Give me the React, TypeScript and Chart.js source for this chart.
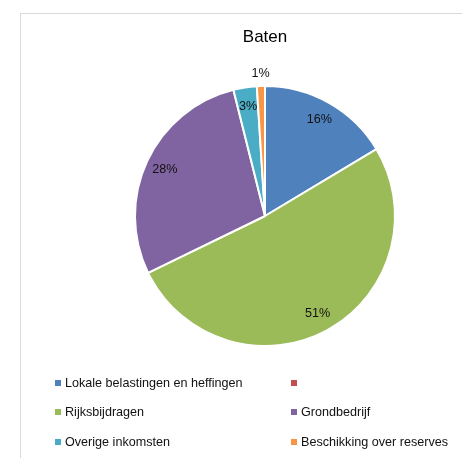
import React, { useEffect, useRef } from "react";
import { Chart, registerables } from "chart.js";

Chart.register(...registerables);

const TITLE = "Baten";
const CATEGORIES = [
  "Lokale belastingen en heffingen",
  "",
  "Rijksbijdragen",
  "Grondbedrijf",
  "Overige inkomsten",
  "Beschikking over reserves",
];
const VALUES = [16.4, 0, 51.4, 28.3, 2.9, 1.0];
const COLORS = ["#4F81BD", "#C0504D", "#9BBB59", "#8064A2", "#4BACC6", "#F79646"];

const FONT = "'Liberation Sans', Arial, sans-serif";

const labelPlugin = {
  id: "pieLabels",
  afterDatasetsDraw(chart: any) {
    const ctx = chart.ctx;
    const meta = chart.getDatasetMeta(0);
    const data = chart.data.datasets[0].data as number[];
    const total = data.reduce((a, b) => a + b, 0);
    ctx.save();
    ctx.font = `12.6px ${FONT}`;
    ctx.fillStyle = "#111";
    ctx.textAlign = "center";
    ctx.textBaseline = "middle";
    meta.data.forEach((el: any, i: number) => {
      const v = data[i];
      if (!v) return;
      const p = el.getProps(["x", "y", "startAngle", "endAngle", "outerRadius"], true);
      const mid = (p.startAngle + p.endAngle) / 2;
      const share = v / total;
      const r = share < 0.02 ? p.outerRadius + 13 : p.outerRadius * 0.85;
      const x = p.x + Math.cos(mid) * r;
      const y = p.y + Math.sin(mid) * r;
      ctx.fillText(`${Math.round(share * 100)}%`, x, y);
    });
    ctx.restore();
  },
};

const LEGEND_ROWS = [383, 412, 441.5];
const LEGEND_COLS = [55, 291];

export default function App() {
  const ref = useRef<HTMLCanvasElement | null>(null);

  useEffect(() => {
    document.body.style.margin = "0";
    if (!ref.current) return;
    const chart = new Chart(ref.current, {
      type: "pie",
      data: {
        labels: CATEGORIES,
        datasets: [
          {
            data: VALUES,
            backgroundColor: COLORS,
            borderColor: "#ffffff",
            borderWidth: 2,
          },
        ],
      },
      options: {
        responsive: false,
        animation: false,
        events: [],
        layout: { padding: { top: 27, left: 134, right: 66, bottom: 73.4 } },
        plugins: {
          legend: { display: false },
          tooltip: { enabled: false },
          title: {
            display: true,
            text: TITLE,
            color: "#000",
            font: { family: FONT, size: 17, weight: "normal" },
            padding: { top: 0, bottom: 0 },
          },
        },
      },
      plugins: [labelPlugin],
    });
    return () => chart.destroy();
  }, []);

  return (
    <div
      style={{
        position: "fixed",
        left: 0,
        top: 0,
        width: 462,
        height: 458,
        background: "#fff",
        overflow: "hidden",
      }}
    >
      <div
        style={{
          position: "absolute",
          left: 20,
          top: 13,
          width: 600,
          height: 600,
          borderLeft: "1px solid #d9d9d9",
          borderTop: "1px solid #d9d9d9",
        }}
      />
      <canvas
        ref={ref}
        width={462}
        height={458}
        style={{ position: "absolute", left: 0, top: 0, width: 462, height: 458 }}
      />
      {CATEGORIES.map((name, i) => {
        const col = i % 2;
        const row = Math.floor(i / 2);
        const cy = LEGEND_ROWS[row];
        const mx = LEGEND_COLS[col];
        return (
          <React.Fragment key={i}>
            <div
              style={{
                position: "absolute",
                left: mx,
                top: cy - 3,
                width: 6,
                height: 6,
                background: COLORS[i],
              }}
            />
            <div
              style={{
                position: "absolute",
                left: mx + 10,
                top: cy - 10,
                height: 20,
                lineHeight: "20px",
                fontFamily: FONT,
                fontSize: 12.6,
                color: "#111",
                whiteSpace: "nowrap",
              }}
            >
              {name}
            </div>
          </React.Fragment>
        );
      })}
    </div>
  );
}
